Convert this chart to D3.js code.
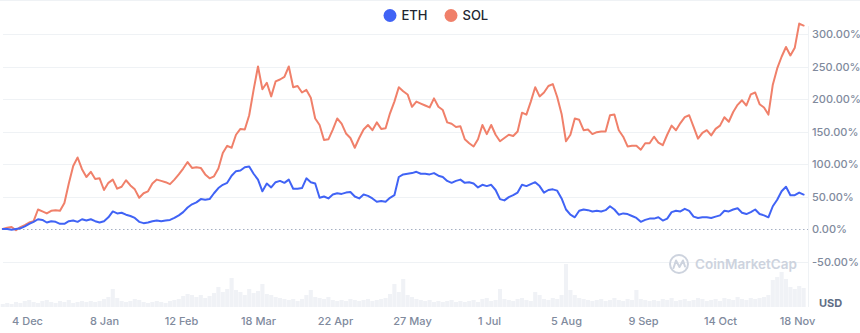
<!DOCTYPE html>
<html><head><meta charset="utf-8">
<script src="https://cdn.jsdelivr.net/npm/d3@7"></script>
<style>
body{margin:0;background:#fff;}
svg{display:block;font-family:Inter,"Noto Sans",sans-serif;}
</style></head><body>
<svg id="chart" width="860" height="333"></svg>
<script>
// ---- data (percent change since start, sampled every 2 days) ----
const startDate = "2023-11-23";
const stepDays = 2;
const seriesNames = ["ETH", "SOL"];
const ethValues = [
  0,0,-1,0,1,4,8,11,15,14,
  10,12,11,8,8,12,13,11,15,13,
  15,12,10,12,18,27,24,25,22,20,
  17,11,9,10,12,13,12,13,14,17,
  21,26,33,38,41,46,45,46,55,63,
  68,71,82,89,90,95,96,85,76,58,
  70,64,72,74,71,76,62,62,63,78,
  72,70,48,50,47,53,55,54,56,57,
  50,47,53,51,47,42,43,42,48,52,
  80,84,85,86,88,85,85,84,86,82,
  80,74,71,74,76,71,72,70,64,68,
  66,68,60,46,44,49,52,56,68,66,
  69,72,66,56,60,61,59,47,30,22,
  18,28,30,29,27,28,27,29,35,30,
  22,24,23,20,17,11,14,16,16,18,
  13,16,26,28,27,31,28,19,17,18,
  18,17,19,21,28,27,30,32,25,23,
  26,30,23,21,18,35,45,58,65,52,
  52,56,53
];
const solValues = [
  0,2,3,-2,3,6,10,12,30,27,
  24,28,29,28,40,70,97,110,92,80,
  88,77,78,60,71,76,62,65,75,67,
  61,48,55,58,70,76,74,72,69,76,
  84,93,103,94,95,94,84,78,81,93,
  117,128,125,145,154,153,175,214,250,215,
  225,204,227,230,234,250,218,220,210,214,
  202,170,160,137,138,153,170,162,147,140,
  125,140,153,160,152,164,154,155,178,196,
  218,212,207,188,196,193,190,187,201,188,
  183,164,162,157,158,138,132,127,138,160,
  146,160,145,135,140,145,143,150,179,176,
  196,218,204,210,220,223,203,177,135,145,
  170,168,152,153,146,149,150,150,175,176,
  152,142,127,128,128,122,132,132,142,133,
  129,145,159,152,163,172,175,157,139,148,
  152,144,154,159,172,165,180,191,198,190,
  207,210,192,187,176,222,247,265,280,267,
  279,316,313
];
const volumeValues = [
  3,4,3,5,4,6,7,5,4,6,
  7,5,4,6,5,7,4,5,6,5,
  6,5,6,8,10,18,9,6,5,6,
  8,7,5,4,5,6,5,4,6,7,
  8,11,13,12,10,12,9,11,14,20,
  15,18,29,17,15,12,18,14,16,23,
  13,12,10,9,8,7,8,6,8,12,
  17,10,9,8,10,7,6,7,6,8,
  7,6,7,8,6,7,8,9,13,23,
  15,28,12,10,8,7,6,7,5,6,
  5,6,7,5,6,5,6,7,5,8,
  9,6,7,18,8,7,6,8,9,7,
  6,15,12,8,7,9,8,12,43,17,
  12,9,8,7,6,7,8,6,7,9,
  7,6,8,7,17,8,7,6,7,6,
  8,7,9,6,7,8,6,7,9,8,
  6,7,8,6,9,8,7,10,8,7,
  9,8,9,10,12,27,30,35,28,20,
  18,21,19
];
const tickDates = ["2023-12-04","2024-01-08","2024-02-12","2024-03-18","2024-04-22","2024-05-27","2024-07-01","2024-08-05","2024-09-09","2024-10-14","2024-11-18"];
const yTicks = [-50,0,50,100,150,200,250,300];

// ---- styles ----
const colors = {ETH:"#4063f5", SOL:"#f0806a"};
const W = 860, H = 333;
const svg = d3.select("#chart");
svg.append("rect").attr("width",W).attr("height",H).attr("fill","#fff");

const start = new Date(startDate);
const dates = ethValues.map((_, i) => d3.utcDay.offset(start, i * stepDays));

const x = d3.scaleUtc()
  .domain([new Date(tickDates[0]), new Date(tickDates[tickDates.length-1])])
  .range([27, 797]);
const y = d3.scaleLinear().domain([0, 300]).range([229, 34]);
const yVol = d3.scaleLinear().domain([0, 45]).range([307, 262]);

const plotLeft = 3, plotRight = 808;

// top border
svg.append("line").attr("x1",0).attr("x2",W).attr("y1",0.5).attr("y2",0.5)
  .attr("stroke","#eff2f5");

// gridlines
svg.append("g").selectAll("line").data(yTicks.filter(d => d !== 0)).join("line")
  .attr("x1", plotLeft).attr("x2", plotRight)
  .attr("y1", d => Math.round(y(d)) + 0.5).attr("y2", d => Math.round(y(d)) + 0.5)
  .attr("stroke", "#eff2f5").attr("stroke-width", 1);

// right border
svg.append("line").attr("x1", plotRight + 0.5).attr("x2", plotRight + 0.5)
  .attr("y1", 26).attr("y2", 307).attr("stroke", "#eff2f5");

// volume bars
const step = x(d3.utcDay.offset(start, stepDays)) - x(start);
svg.append("g").selectAll("rect").data(volumeValues).join("rect")
  .attr("x", (d, i) => x(dates[i]) - step / 2 + 0.15)
  .attr("width", step - 0.3)
  .attr("y", d => yVol(d))
  .attr("height", d => yVol(0) - yVol(d))
  .attr("fill", "#f0f2f6");

// watermark
const wm = svg.append("g").attr("fill", "none").attr("stroke", "#cdd3de").attr("stroke-width", 2);
wm.append("circle").attr("cx", 679).attr("cy", 264).attr("r", 9);
wm.append("path").attr("d", "M673.5,268 L676,260.5 L679.5,267 L683,260.5 L685,266.5")
  .attr("stroke-linejoin","round").attr("stroke-linecap","round");
svg.append("text").attr("x", 695).attr("y", 264).attr("dy", "0.35em")
  .attr("font-size", 13.5).attr("font-weight", 600).attr("fill", "#cdd3de")
  .text("CoinMarketCap");

// zero line
svg.append("line").attr("x1", plotLeft).attr("x2", plotRight)
  .attr("y1", Math.round(y(0)) + 0.5).attr("y2", Math.round(y(0)) + 0.5)
  .attr("stroke", "#a6b0c3").attr("stroke-dasharray", "1.5,2.5");

// lines
const line = d3.line().x((d, i) => x(dates[i])).y(d => y(d));
[["SOL", solValues], ["ETH", ethValues]].forEach(([name, vals]) => {
  svg.append("path").datum(vals)
    .attr("d", line)
    .attr("fill", "none")
    .attr("stroke", colors[name])
    .attr("stroke-width", 2)
    .attr("stroke-linejoin", "round")
    .attr("stroke-linecap", "round");
});

// y axis (right)
const yAxis = d3.axisRight(y).tickValues(yTicks).tickSize(0).tickPadding(0)
  .tickFormat(d => d.toFixed(2) + "%");
const gy = svg.append("g").attr("transform", "translate(812,0)").call(yAxis);
gy.select(".domain").remove();
gy.selectAll("text").attr("font-size", 11).attr("fill", "#808a9d")
  .attr("font-family", "Inter, 'Noto Sans', sans-serif").attr("font-weight", 500);

// x axis
const xAxis = d3.axisBottom(x).tickValues(tickDates.map(d => new Date(d)))
  .tickSize(0).tickPadding(0).tickFormat(d3.utcFormat("%-d %b"));
const gx = svg.append("g").attr("transform", "translate(0,321)").call(xAxis);
gx.select(".domain").remove();
gx.selectAll("text").attr("dy", "0.35em").attr("y", 0)
  .attr("font-size", 11).attr("fill", "#808a9d")
  .attr("font-family", "Inter, 'Noto Sans', sans-serif").attr("font-weight", 500);

// USD label
svg.append("text").attr("x", 819).attr("y", 303).attr("dy", "0.35em")
  .attr("font-size", 11).attr("font-weight", 700).attr("fill", "#616e85").text("USD");

// legend
const legendX = [390, 451];
const lg = svg.append("g").selectAll("g").data(seriesNames).join("g")
  .attr("transform", (d, i) => `translate(${legendX[i]},15.5)`);
lg.append("circle").attr("r", 6.5).attr("fill", d => colors[d]);
lg.append("text").attr("x", 11.5).attr("dy", "0.35em")
  .attr("font-size", 13).attr("font-weight", 500).attr("fill", "#222531").text(d => d);
</script>
</body></html>
